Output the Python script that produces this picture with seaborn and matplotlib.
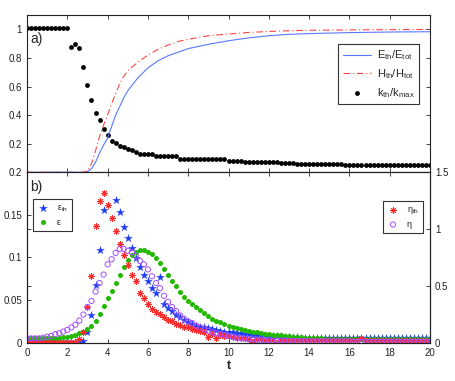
import numpy as np
import matplotlib
matplotlib.use("Agg")
import matplotlib.pyplot as plt
import seaborn as sns

# === Data ===
# sample times of the point series (dt = 0.2)
t = np.arange(101) * 0.2

# a) k_th / k_max (black dots)
k_th = ([1.012] * 11
        + [0.876, 0.90, 0.87, 0.736, 0.608, 0.508, 0.415, 0.368, 0.30, 0.259,
           0.22, 0.205, 0.185, 0.175, 0.162, 0.157, 0.14]
        + [0.13] * 4 + [0.114] * 6 + [0.093] * 12 + [0.08] * 4
        + [0.072] * 9 + [0.065] * 4 + [0.058] * 12 + [0.05] * 22)

# a) energy / helicity fractions (lines)
t_line = [0, 1, 2, 2.8, 3.0, 3.2, 3.4, 3.6, 3.8, 4.0, 4.2, 4.4, 4.6, 4.8, 5.0,
          5.5, 6.0, 6.5, 7.0, 7.5, 8.0, 9.0, 10, 11, 12, 13, 14, 16, 18, 20]
E_frac = [0, 0, 0, 0, 0.005, 0.025, 0.07, 0.135, 0.19, 0.24, 0.32, 0.40, 0.46,
          0.52, 0.57, 0.66, 0.73, 0.78, 0.815, 0.84, 0.865, 0.895, 0.92, 0.94,
          0.955, 0.965, 0.97, 0.977, 0.981, 0.983]
H_frac = [0, 0, 0, 0, 0.01, 0.06, 0.15, 0.25, 0.33, 0.40, 0.48, 0.55, 0.62,
          0.67, 0.71, 0.77, 0.82, 0.86, 0.89, 0.915, 0.93, 0.955, 0.967, 0.978,
          0.985, 0.99, 0.993, 0.996, 0.998, 0.999]

# b) left axis: eps_th (stars), eps (dots)
eps_th = ([0.001] * 14
          + [0.002, 0.013, 0.033, 0.068, 0.109, 0.156, np.nan, np.nan, 0.167,
             0.153, 0.136, 0.123, 0.111, 0.099, 0.089, 0.080, 0.072, 0.064,
             0.058, 0.077, 0.046, 0.041, 0.037, 0.033, 0.030, 0.027, 0.024,
             0.022, 0.020, 0.019, 0.018, 0.017, 0.016, 0.015, 0.014, 0.013,
             0.012, 0.012, 0.011, 0.011, 0.010, 0.010, 0.0095, 0.009, 0.009,
             0.0085, 0.008, 0.008, 0.0075, 0.0075, 0.007, 0.007, 0.0065,
             0.0065, 0.006, 0.006]
          + [0.0055] * 10 + [0.005] * 21)
eps = ([0.006] * 9
       + [0.0065, 0.007, 0.008, 0.009, 0.011, 0.013, 0.016, 0.020, 0.026,
          0.034, 0.043, 0.052, 0.061, 0.070, 0.080, 0.089, 0.097, 0.103,
          0.107, 0.109, 0.109, 0.107, 0.104, 0.099, 0.093, 0.087, 0.080,
          0.073, 0.066, 0.059, 0.054, 0.049, 0.045, 0.042, 0.038, 0.035,
          0.031, 0.028, 0.026, 0.024, 0.022, 0.020, 0.018, 0.017, 0.016,
          0.015, 0.014, 0.013, 0.012, 0.011, 0.0105, 0.010, 0.0095, 0.009,
          0.0085, 0.008, 0.0075, 0.007, 0.0065, 0.0062, 0.006, 0.0057,
          0.0055, 0.0052, 0.005, 0.0048, 0.0046]
       + [0.0043] * 12 + [0.004] * 13)

# b) right axis: eta_th (asterisks), eta (open circles)
eta_th = ([0.008] * 13
          + [0.03, 0.09, 0.31, 0.59, 1.03, 1.25, 1.32, 1.21, 1.095, 0.98, 0.87,
             0.77, 0.68, 0.60, 0.54, 0.44, 0.39, 0.345, 0.30, 0.27, 0.255, 0.23,
             0.20, 0.19, 0.165, 0.155, 0.14, 0.135, 0.125, 0.115, 0.105, 0.09,
             0.05, 0.075, 0.045, 0.07, 0.06, 0.055, 0.05, 0.045, 0.045, 0.04,
             0.035, 0.005, 0.03, 0.03, 0.025, 0.025, 0.025, 0.0, 0.02]
          + [0.02] * 19 + [0.045] + [0.015] * 17)
eta = ([0.038, 0.038, 0.038, 0.038, 0.045, 0.053, 0.06, 0.075, 0.083, 0.098,
        0.113, 0.135, 0.158, 0.195, 0.248, 0.315, 0.368, 0.45, 0.525, 0.60,
        0.69, 0.735, 0.79, 0.825, 0.825, 0.81, 0.795, 0.765, 0.72, 0.69,
        0.645, 0.585, 0.525, 0.48, 0.413, 0.36, 0.315, 0.278, 0.24, 0.21,
        0.188, 0.173, 0.15, 0.135, 0.12, 0.105, 0.09, 0.083, 0.075, 0.068,
        0.06, 0.053, 0.045, 0.04, 0.036, 0.032, 0.029, 0.026, 0.024, 0.022,
        0.02]
       + [0.018] * 5 + [0.015] * 5 + [0.012] * 10 + [0.008] * 20)

x_ticks = [0, 2, 4, 6, 8, 10, 12, 14, 16, 18, 20]
a_yticks = [0, 0.2, 0.4, 0.6, 0.8, 1.0]
a_yticklabels = ['0.2', '0.2', '0.4', '0.6', '0.8', '1']
b_yticks = [0, 0.05, 0.1, 0.15]
b_yticklabels = ['0', '0.05', '0.1', '0.15']
b2_yticks = [0, 0.5, 1, 1.5]
b2_yticklabels = ['0', '0.5', '1', '1.5']

# === Style ===
sns.set_style("ticks")
plt.rcParams['font.family'] = ['Liberation Sans', 'DejaVu Sans']
plt.rcParams['mathtext.default'] = 'regular'
plt.rcParams['axes.linewidth'] = 0.8

fig = plt.figure(figsize=(4.56, 3.81), dpi=100)
ax_a = fig.add_axes([0.0592, 0.5478, 0.8838, 0.4128])
ax_b = fig.add_axes([0.0592, 0.1005, 0.8838, 0.4473])

# === Panel a) ===
sns.lineplot(x=t_line, y=E_frac, ax=ax_a, color='#5a78ff', lw=0.8,
             label=r'$E_{th}/E_{tot}$')
sns.lineplot(x=t_line, y=H_frac, ax=ax_a, color='#ff4646', lw=0.8,
             linestyle=(0, (6, 2.5, 1, 2.5)), label=r'$H_{th}/H_{tot}$')
sns.scatterplot(x=t, y=k_th, ax=ax_a, color='k', edgecolor='k', s=12,
                linewidth=0, label=r'$k_{th}/k_{max}$')

ax_a.set_xlim(0, 20)
ax_a.set_ylim(0, 1.1)
ax_a.set_xticks(x_ticks)
ax_a.set_xticklabels([])
ax_a.set_yticks(a_yticks)
ax_a.set_yticklabels(a_yticklabels)
ax_a.tick_params(direction='in', top=True, right=True, labelsize=7,
                 length=3, width=0.6, colors='#222222')
ax_a.set_xlabel('')
ax_a.set_ylabel('')
ax_a.text(0.009, 0.85, 'a)', transform=ax_a.transAxes, fontsize=10,
          va='center', ha='left')
leg = ax_a.legend(loc='upper left', bbox_to_anchor=(0.772, 0.816),
                  borderaxespad=0, fontsize=8, frameon=True, fancybox=False,
                  edgecolor='#333333', framealpha=1, handlelength=2.6,
                  handletextpad=0.5, labelspacing=0.45, borderpad=0.4)
leg.get_frame().set_linewidth(0.8)

# === Panel b) ===
sns.scatterplot(x=t, y=eps_th, ax=ax_b, marker='*', color='#1f3cf5',
                edgecolor='#1f3cf5', s=34, linewidth=0.2,
                label=r'ε$_{th}$')
sns.scatterplot(x=t, y=eps, ax=ax_b, marker='o', color='#22b800',
                edgecolor='#22b800', s=13, linewidth=0, label='ε')
ax_b.set_xlim(0, 20)
ax_b.set_ylim(0, 0.2)
ax_b.set_xticks(x_ticks)
ax_b.set_xticklabels([str(v) for v in x_ticks])
ax_b.set_yticks(b_yticks)
ax_b.set_yticklabels(b_yticklabels)
ax_b.tick_params(direction='in', top=True, right=True, labelsize=7,
                 length=3, width=0.6, colors='#222222')
ax_b.set_ylabel('')
ax_b.set_xlabel('t', fontsize=9, fontweight='bold', labelpad=2)
ax_b.text(0.009, 0.914, 'b)', transform=ax_b.transAxes, fontsize=10,
          va='center', ha='left')
leg_b = ax_b.legend(loc='upper left', bbox_to_anchor=(0.0156, 0.842),
                    borderaxespad=0, fontsize=6.5, frameon=True,
                    fancybox=False, edgecolor='#333333', framealpha=1,
                    handlelength=1.2, handletextpad=0.9, labelspacing=0.4,
                    borderpad=0.5)
leg_b.get_frame().set_linewidth(0.8)

ax_b2 = ax_b.twinx()
sns.scatterplot(x=t, y=eta_th, ax=ax_b2, marker=(8, 2, 0), color='#ff2a2a',
                edgecolor='#ff2a2a', s=18, linewidth=0.7,
                label=r'η$_{th}$')
sns.scatterplot(x=t, y=eta, ax=ax_b2, marker='o', color='#a64dff',
                facecolor='none', edgecolor='#a64dff', s=14, linewidth=0.7,
                label='η')
ax_b2.set_ylim(0, 1.5)
ax_b2.set_yticks(b2_yticks)
ax_b2.set_yticklabels(b2_yticklabels)
ax_b2.tick_params(direction='in', left=True, labelsize=7, length=3,
                  width=0.6, colors='#222222')
ax_b2.set_ylabel('')
leg_b2 = ax_b2.legend(loc='upper right', bbox_to_anchor=(0.983, 0.833),
                      borderaxespad=0, fontsize=6.5, frameon=True,
                      fancybox=False, edgecolor='#333333', framealpha=1,
                      handlelength=1.2, handletextpad=0.9, labelspacing=0.4,
                      borderpad=0.5)
leg_b2.get_frame().set_linewidth(0.8)

for ax in (ax_a, ax_b, ax_b2):
    for sp in ax.spines.values():
        sp.set_visible(True)
        sp.set_color('#222222')
        sp.set_linewidth(0.8)

fig.savefig('out.png', dpi=100)
